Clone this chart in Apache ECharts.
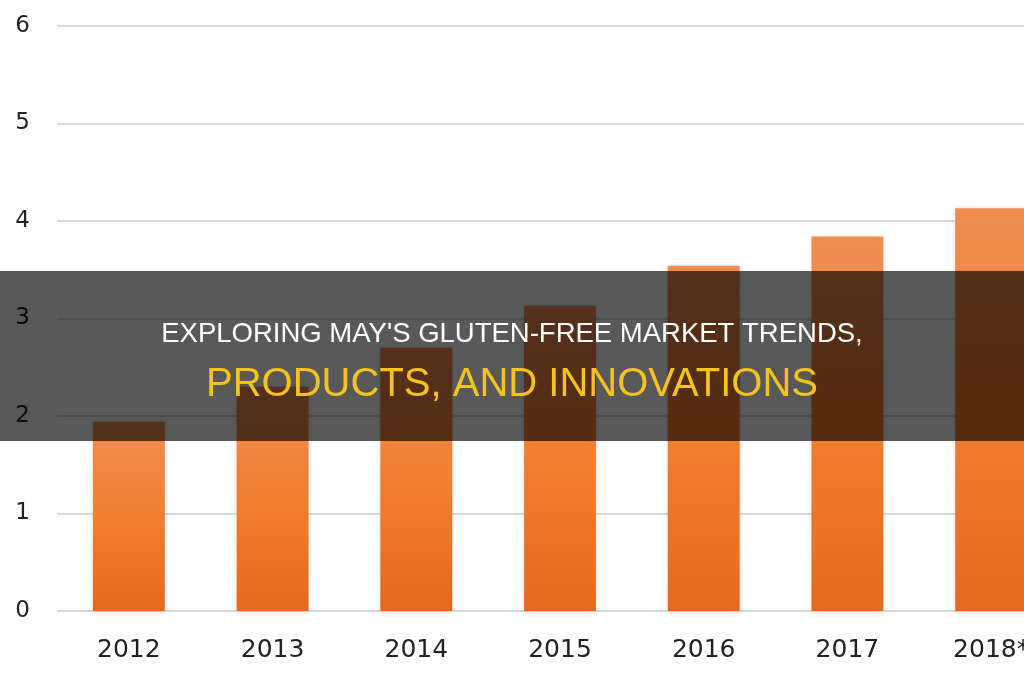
<!DOCTYPE html>
<html>
<head>
<meta charset="utf-8">
<script src="https://cdn.jsdelivr.net/npm/echarts@6/dist/echarts.min.js"></script>
<style>
  html, body { margin: 0; padding: 0; background: #fff; }
  #chart { width: 1024px; height: 680px; }
</style>
</head>
<body>
<div id="chart"></div>
<script>
  // data
  var years = ['2012', '2013', '2014', '2015', '2016', '2017', '2018*'];
  var sales = [1.94, 2.3, 2.7, 3.13, 3.54, 3.84, 4.13];
  var yTicks = [0, 1, 2, 3, 4, 5, 6];

  var headline1 = "EXPLORING MAY'S GLUTEN-FREE MARKET TRENDS,";
  var headline2 = 'PRODUCTS, AND INNOVATIONS';

  var myChart = echarts.init(document.getElementById('chart'));

  var option = {
    animation: false,
    // last category runs past the right edge, like the cropped original
    grid: {
      left: 57, top: 26, width: 1006, height: 585,
      containLabel: false, outerBoundsMode: 'none'
    },
    xAxis: {
      type: 'category',
      data: years,
      axisTick: { show: false },
      axisLine: { show: false },
      axisLabel: { color: '#222', fontSize: 25, fontFamily: 'DejaVu Sans', margin: 27 }
    },
    yAxis: {
      type: 'value',
      min: yTicks[0],
      max: yTicks[yTicks.length - 1],
      interval: 1,
      axisLine: { show: false },
      axisTick: { show: false },
      axisLabel: { color: '#222', fontSize: 23, fontFamily: 'DejaVu Sans', margin: 27 },
      splitLine: { lineStyle: { color: '#dadada', width: 2 } }
    },
    series: [{
      type: 'bar',
      data: sales,
      barWidth: '50%',
      itemStyle: {
        color: new echarts.graphic.LinearGradient(0, 0, 0, 1, [
          { offset: 0, color: '#f08d52' },
          { offset: 0.5, color: '#f07f30' },
          { offset: 1, color: '#e5691d' }
        ]),
        shadowColor: 'rgba(0,0,0,0.15)',
        shadowBlur: 4
      }
    }],
    graphic: [
      {
        type: 'rect',
        left: 0, top: 271, z: 100,
        shape: { width: 1024, height: 170 },
        style: { fill: 'rgba(0,0,0,0.65)' }
      },
      {
        type: 'text',
        left: 'center', top: 320, z: 101,
        style: {
          text: headline1, fill: '#ffffff',
          font: '27.5px "Liberation Sans", Arial, sans-serif'
        }
      },
      {
        type: 'text',
        left: 'center', top: 365, z: 101,
        style: {
          text: headline2, fill: '#f6c21d',
          font: '40px "Liberation Sans", Arial, sans-serif'
        }
      }
    ]
  };

  myChart.setOption(option);
</script>
</body>
</html>
